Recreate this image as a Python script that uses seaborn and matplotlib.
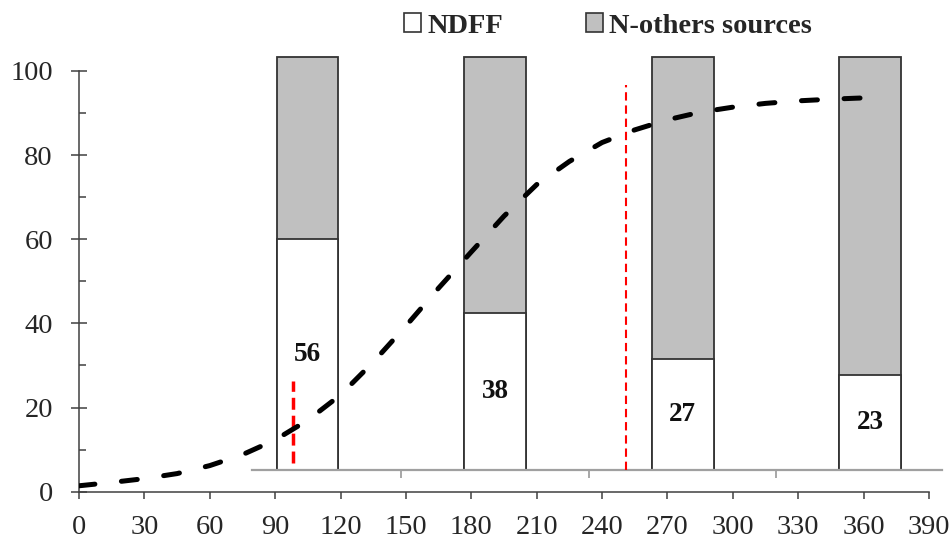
import matplotlib
matplotlib.use("Agg")
import matplotlib.pyplot as plt
from matplotlib.patches import Patch
import pandas as pd
import seaborn as sns

# Cumulative N uptake curve (% of final) over days after planting
days = [0, 15, 30, 45, 60, 75, 90, 105, 120, 135, 150, 165, 180,
        195, 210, 225, 240, 255, 270, 285, 300, 315, 330, 345, 360]
n_uptake = [1.4, 2.2, 3.1, 4.3, 6.2, 8.8, 12.3, 17.0, 23.0, 30.8, 39.4, 48.4, 57.0,
            65.5, 73.0, 78.5, 83.0, 86.0, 88.4, 90.2, 91.4, 92.3, 92.9, 93.3, 93.6]

# Share of plant N derived from fertilizer at each sampling
stages = ["S1", "S2", "S3", "S4"]
ndff = [56, 38, 27, 23]

# Days marking phase changes
marker_days = [98, 251]

x_ticks = list(range(0, 391, 30))
y_ticks = [0, 20, 40, 60, 80, 100]
y_minor = [10, 30, 50, 70, 90]
legend_labels = ["NDFF", "N-others sources"]

sns.set_style("ticks")
plt.rcParams["font.family"] = ["Liberation Serif", "DejaVu Serif"]
plt.rcParams["lines.scale_dashes"] = False

GREY_FILL = "#c0c0c0"
EDGE = "#333333"
SPINE = "#404040"

fig = plt.figure(figsize=(9.53, 5.39), dpi=100)
axb = fig.add_axes([0.2644, 0.128, 0.724, 0.7662], zorder=1)
ax = fig.add_axes([0.0829, 0.0878, 0.8919, 0.7805], zorder=2)
ax.patch.set_alpha(0)

# Stacked 100% bars: grey total underneath, white NDFF portion on top
bars = pd.DataFrame({"stage": stages, "ndff": ndff, "total": [100] * len(stages)})
sns.barplot(data=bars, x="stage", y="total", color=GREY_FILL, saturation=1,
            width=0.33, edgecolor=EDGE, linewidth=1.3, errorbar=None, ax=axb)
sns.barplot(data=bars, x="stage", y="ndff", color="white", saturation=1,
            width=0.33, edgecolor=EDGE, linewidth=1.3, errorbar=None, ax=axb)
for p in axb.patches:
    p.set_clip_on(False)
for i, v in enumerate(ndff):
    axb.text(i, v / 2, str(v), ha="center", va="center",
             fontsize=19.5, fontweight="bold", color="#111111")

axb.set_xlim(-0.296, 3.382)
axb.set_ylim(0, 100)
axb.set_xticks([0.5, 1.5, 2.5])
axb.set_xticklabels([])
axb.set_yticks([])
axb.set_xlabel("")
axb.set_ylabel("")
axb.tick_params(axis="x", direction="out", length=6, width=1.3, color="#a0a0a0")
for s in ("left", "top", "right"):
    axb.spines[s].set_visible(False)
axb.spines["bottom"].set_color("#a0a0a0")
axb.spines["bottom"].set_linewidth(1.6)

# N uptake curve
sns.lineplot(x=days, y=n_uptake, ax=ax, color="black", linewidth=3.6,
             linestyle=(0, (11.5, 19.2)), dash_capstyle="round", zorder=6)

# Phase markers
ax.plot([marker_days[0]] * 2, [6.8, 26.3], color="red", linewidth=2.5,
        linestyle=(0, (8.6, 4.3)), zorder=5)
ax.plot([marker_days[1]] * 2, [5.2, 96.7], color="red", linewidth=1.5,
        linestyle=(0, (6, 3.5)), zorder=5)

ax.set_xlim(0, 390)
ax.set_ylim(0, 100)
ax.set_xticks(x_ticks)
ax.set_yticks(y_ticks)
ax.set_yticks(y_minor, minor=True)
ax.set_xlabel("")
ax.set_ylabel("")
ax.tick_params(axis="y", which="major", direction="inout", length=11.5, width=1.1,
               color=SPINE, pad=13, labelsize=20.5)
ax.tick_params(axis="y", which="minor", direction="in", length=5, width=1.1, color=SPINE)
ax.tick_params(axis="x", which="major", direction="out", length=5, width=1.1,
               color=SPINE, pad=12, labelsize=20.5)
for s in ("top", "right"):
    ax.spines[s].set_visible(False)
for s in ("left", "bottom"):
    ax.spines[s].set_color(SPINE)
    ax.spines[s].set_linewidth(1.1)

handles = [Patch(facecolor="white", edgecolor=EDGE, linewidth=1.2),
           Patch(facecolor=GREY_FILL, edgecolor=EDGE, linewidth=1.2)]
fig.legend(handles=handles, labels=legend_labels, loc="center",
           bbox_to_anchor=(608 / 953, 1 - 26 / 539), ncol=2, frameon=False,
           prop={"weight": "bold", "size": 20.5}, handlelength=0.6, handleheight=0.6,
           handletextpad=0.22, columnspacing=2.9, borderpad=0, borderaxespad=0)

fig.savefig("out.png", dpi=100)
